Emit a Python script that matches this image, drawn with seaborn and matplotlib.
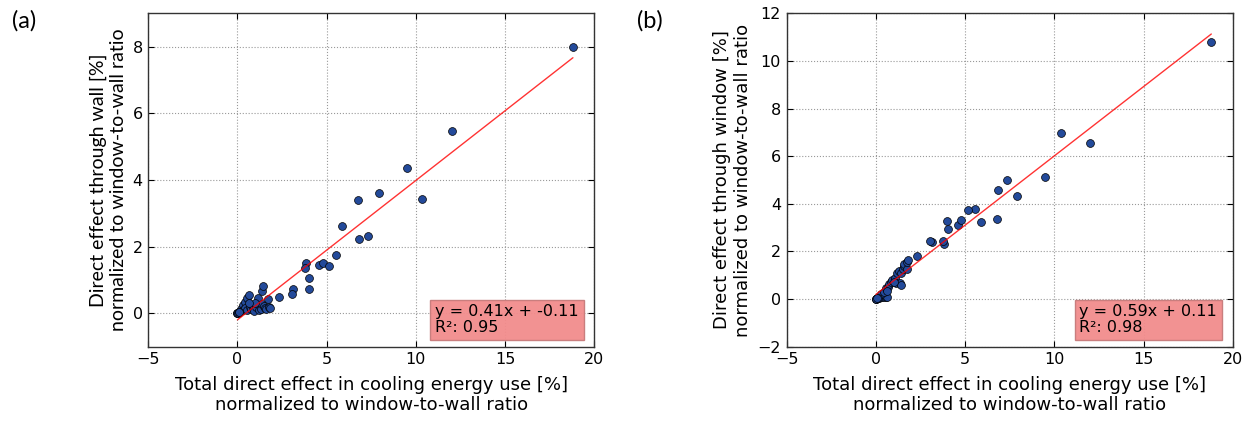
import matplotlib
matplotlib.use("Agg")
import matplotlib.pyplot as plt
import seaborn as sns
import pandas as pd

# total direct effect (x) and its split into wall / window parts
total_effect = [18.80, 12.02, 9.50, 10.37, 7.93, 6.77, 5.87, 6.82, 7.33, 5.53,
                3.83, 3.78, 4.58, 4.80, 5.14, 4.02, 4.00, 3.14, 3.03, 2.32,
                0.00, 0.05, 0.19, 0.32, 0.43, 0.55, 0.64, 0.30, 0.45, 0.55,
                0.70, 0.75, 0.85, 0.95, 0.90, 1.05, 1.15, 1.20, 1.30, 1.40,
                1.36, 1.42, 1.50, 1.55, 1.59, 1.72, 1.76, 1.81, 1.00, 0.65,
                0.00, 0.02, 0.10, 0.08]
wall_effect = [8.00, 5.46, 4.37, 3.43, 3.61, 3.41, 2.63, 2.23, 2.33, 1.74,
               1.51, 1.35, 1.45, 1.51, 1.43, 1.05, 0.74, 0.74, 0.59, 0.49,
               0.00, 0.02, 0.13, 0.24, 0.34, 0.45, 0.55, 0.10, 0.15, 0.10,
               0.20, 0.12, 0.15, 0.20, 0.08, 0.18, 0.46, 0.10, 0.14, 0.29,
               0.68, 0.81, 0.22, 0.16, 0.12, 0.44, 0.19, 0.16, 0.30, 0.30,
               0.00, 0.01, 0.05, 0.04]
window_effect = [10.78, 6.55, 5.13, 6.96, 4.33, 3.37, 3.23, 4.60, 5.00, 3.80,
                 2.32, 2.42, 3.13, 3.30, 3.72, 2.96, 3.26, 2.39, 2.43, 1.83,
                 0.00, 0.03, 0.06, 0.08, 0.09, 0.10, 0.09, 0.20, 0.30, 0.45,
                 0.50, 0.63, 0.70, 0.75, 0.82, 0.87, 0.69, 1.10, 1.16, 1.11,
                 0.68, 0.61, 1.28, 1.39, 1.47, 1.28, 1.57, 1.65, 0.70, 0.35,
                 0.00, 0.01, 0.05, 0.04]

fit_labels = ["y = 0.41x + -0.11\nR²: 0.95", "y = 0.59x + 0.11\nR²: 0.98"]
panel_tags = ["(a)", "(b)"]
y_labels = ["Direct effect through wall [%]\nnormalized to window-to-wall ratio",
            "Direct effect through window [%]\nnormalized to window-to-wall ratio"]
x_label = "Total direct effect in cooling energy use [%]\nnormalized to window-to-wall ratio"

df = pd.DataFrame({"total": total_effect, "wall": wall_effect, "window": window_effect})

sns.set_style("white")
plt.rcParams["font.family"] = ["DejaVu Sans"]
plt.rcParams["text.color"] = "black"
plt.rcParams["axes.labelcolor"] = "black"
plt.rcParams["xtick.color"] = "black"
plt.rcParams["ytick.color"] = "black"

fig = plt.figure(figsize=(12.52, 4.25), dpi=100)
ax1 = fig.add_axes([0.1184, 0.1842, 0.3563, 0.7845])
ax2 = fig.add_axes([0.6283, 0.1842, 0.3563, 0.7845])

dot_color = "#234a9a"

for ax, col, lab, ylim, yticks in [(ax1, "wall", fit_labels[0], (-1, 9), [0, 2, 4, 6, 8]),
                                   (ax2, "window", fit_labels[1], (-2, 12), [-2, 0, 2, 4, 6, 8, 10, 12])]:
    sns.scatterplot(data=df, x="total", y=col, ax=ax, color=dot_color, s=32,
                    edgecolor="black", linewidth=0.5, zorder=3)
    sns.regplot(data=df, x="total", y=col, ax=ax, scatter=False, ci=None,
                line_kws={"color": "red", "linewidth": 1.0, "alpha": 0.8, "zorder": 4})
    ax.set_xlim(-5, 20)
    ax.set_ylim(*ylim)
    ax.set_xticks([-5, 0, 5, 10, 15, 20])
    ax.set_yticks(yticks)
    ax.grid(True, linestyle=":", color="#999999", linewidth=0.8)
    ax.tick_params(labelsize=11.5, direction="in", length=4, top=True, right=True,
                   bottom=True, left=True, pad=4)
    for sp in ax.spines.values():
        sp.set_color("#333333")
        sp.set_linewidth(1.0)
    ax.set_xlabel(x_label, fontsize=13, labelpad=6)
    ax.text(0.965, 0.035, lab, transform=ax.transAxes, ha="right", va="bottom",
            multialignment="left", fontsize=11.5, zorder=5, linespacing=1.05,
            bbox=dict(boxstyle="square,pad=0.3", facecolor="#f28c8c",
                      edgecolor="#c77a7a", alpha=0.95))

ax1.set_ylabel(y_labels[0], fontsize=14, family=["Lato", "DejaVu Sans"], labelpad=4)
ax2.set_ylabel(y_labels[1], fontsize=13, labelpad=4)

fig.text(0.019, 0.95, panel_tags[0], fontsize=17, family=["Lato", "DejaVu Sans"], ha="center", va="center")
fig.text(0.519, 0.95, panel_tags[1], fontsize=17, family=["Lato", "DejaVu Sans"], ha="center", va="center")

fig.savefig("out.png", dpi=100)
